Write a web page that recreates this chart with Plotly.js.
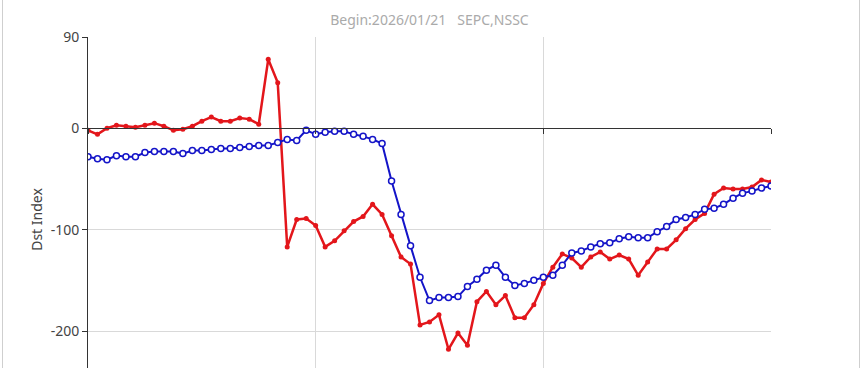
<!DOCTYPE html>
<html>
<head>
<meta charset="utf-8">
<script src="https://cdn.plot.ly/plotly-3.0.1.min.js"></script>
<style>
html,body{margin:0;padding:0;overflow:hidden;background:#fff;}
#chart{position:absolute;left:0;top:0;width:865px;height:450px;}
#frame{position:absolute;left:2px;top:0;width:856px;height:368px;border-left:1px solid #cfcfcf;border-right:1px solid #cfcfcf;pointer-events:none;}
</style>
</head>
<body>
<div id="chart"></div>
<div id="frame"></div>
<script>
// Hours since begin (0..72)
const hours = Array.from({length: 73}, (_, i) => i);

// SEPC Dst (red)
const dstRed = [-2,-6,0,3,2,1,3,5,2,-2,-1,2,7,11,7,7,10,9,4,68,45,
  -117,-90,-89,-96,-117,-111,-101,-92,-87,-75,-85,-106,
  -127,-134,-194,-191,-184,-218,-202,-214,-171,-161,-174,-165,-187,-187,
  -174,-153,-137,-124,-128,-137,-127,-122,-129,-125,-129,-145,-132,-119,-119,-110,-99,-90,-84,-65,-59,-60,-60,-58,-51,-53];

// NSSC Dst (blue)
const dstBlue = [-28,-30,-31,-27,-28,-28,-24,-23,-23,-23,-25,-22,-22,-21,-20,-20,-19,-18,-17,-17,-14,-11,-12,-2,-6,-4,
  -3,-3,-6,-8,-11,-15,-52,-85,-116,
  -147,-170,-167,-167,-166,-156,-149,-140,-135,-147,-155,-153,
  -150,-147,-145,-135,-123,-121,-117,-114,-113,-109,-107,-108,-108,-102,-97,-90,-88,-85,-80,-79,-75,-69,-64,-62,-59,-57];

const yTicks = [-200, -100, 0, 90];
const titleText = 'Begin:2026/01/21   SEPC,NSSC';
const yTitle = 'Dst Index';

const yMin = -270, yMax = 90;

const traces = [
  {
    x: hours, y: dstRed, type: 'scatter', mode: 'lines+markers', name: 'SEPC',
    line: {color: '#e3161b', width: 2.5},
    marker: {color: '#e3161b', size: 5, symbol: 'circle'}
  },
  {
    x: hours, y: dstBlue, type: 'scatter', mode: 'lines+markers', name: 'NSSC',
    line: {color: '#1414c8', width: 2},
    marker: {color: '#ffffff', size: 6, symbol: 'circle', line: {color: '#1414c8', width: 1.5}}
  }
];

const layout = {
  width: 865, height: 450,
  margin: {l: 88, r: 94, t: 37, b: 48},
  paper_bgcolor: '#ffffff', plot_bgcolor: '#ffffff',
  showlegend: false,
  font: {family: 'Noto Sans, Open Sans, sans-serif', size: 14, color: '#555'},
  title: {text: titleText, font: {size: 14, color: '#aaaaaa'}, x: 0.4965, xanchor: 'center', y: 0.955, yanchor: 'middle', yref: 'container'},
  xaxis: {
    range: [0, 72], tickmode: 'linear', tick0: 0, dtick: 24,
    showgrid: true, gridcolor: '#d9d9d9', gridwidth: 1,
    zeroline: false, showline: true, linecolor: '#333', linewidth: 1,
    ticks: 'outside', ticklen: 5, tickcolor: '#333',
    showticklabels: false,
    anchor: 'free', position: (0 - yMin) / (yMax - yMin)
  },
  yaxis: {
    range: [yMin, yMax], tickmode: 'array', tickvals: yTicks, ticktext: yTicks.map(String),
    showgrid: true, gridcolor: '#d9d9d9', gridwidth: 1,
    zeroline: false, showline: true, linecolor: '#333', linewidth: 1,
    ticks: 'outside', ticklen: 5, tickcolor: '#333',
    tickfont: {size: 14, color: '#444'},
    title: {text: yTitle, font: {size: 14, color: '#444'}, standoff: 4},
    automargin: false
  }
};

Plotly.newPlot('chart', traces, layout, {displayModeBar: false, staticPlot: true});
</script>
</body>
</html>
